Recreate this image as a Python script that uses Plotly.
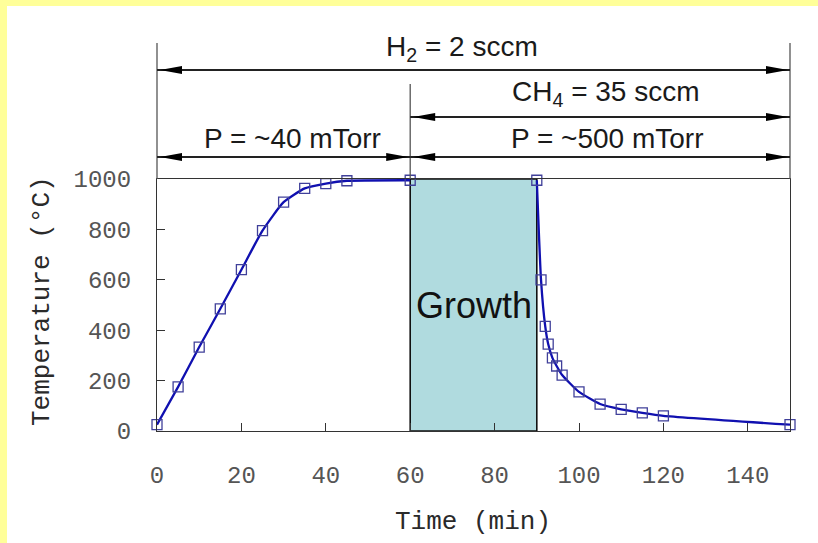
import plotly.graph_objects as go

# ---- data ----
time_heat = [0, 5, 10, 15, 20, 25, 30, 35, 40, 45, 60]
temp_heat = [25, 175, 333, 485, 640, 795, 908, 963, 982, 993, 995]
time_cool = [90, 91, 92, 92.7, 93.7, 94.7, 96, 100, 105, 110, 115, 120, 150]
temp_cool = [995, 600, 415, 345, 290, 258, 222, 155, 107, 86, 72, 60, 25]

growth_start, growth_end = 60, 90
growth_label = "Growth"

x_ticks = [0, 20, 40, 60, 80, 100, 120, 140]
y_ticks = [0, 200, 400, 600, 800, 1000]
x_range = [0, 150]
y_range = [0, 1000]

# process-condition arrows: (start, end, label, label_x)
phase_start, phase_split, phase_end = 0, 60, 150
arrows = [
    (phase_start, phase_end, "H<sub>2</sub> = 2 sccm", 72.2),
    (phase_split, phase_end, "CH<sub>4</sub> = 35 sccm", 106.4),
    (phase_start, phase_split, "P = ~40 mTorr", 32.1),
    (phase_split, phase_end, "P = ~500 mTorr", 106.6),
]

# ---- layout geometry (pixels) ----
W, H = 818, 543
L, R, T, B = 157, 28, 179, 112
PW, PH = W - L - R, H - T - B


def py(p):  # pixel y -> paper y
    return (H - B - p) / PH


def px(p):  # pixel x -> paper x
    return (p - L) / PW


def fx(t):  # data x -> x-domain fraction
    return (t - x_range[0]) / (x_range[1] - x_range[0])


fig = go.Figure()

line_style = dict(color="#1010b0", width=2.3, shape="spline", smoothing=0.5)
marker_style = dict(symbol="square-open", size=10, color="#40409a", line=dict(width=1.3))

fig.add_trace(go.Scatter(x=time_heat, y=temp_heat, mode="lines+markers",
                         line=line_style, marker=marker_style, cliponaxis=False,
                         showlegend=False))
fig.add_trace(go.Scatter(x=time_cool, y=temp_cool, mode="lines+markers",
                         line=line_style, marker=marker_style, cliponaxis=False,
                         showlegend=False))

shapes = []
# yellow frame strips
shapes.append(dict(type="rect", xref="paper", yref="paper",
                   x0=px(0), x1=px(7), y0=py(H), y1=py(0),
                   fillcolor="#ffff99", line=dict(width=0), layer="below"))
shapes.append(dict(type="rect", xref="paper", yref="paper",
                   x0=px(0), x1=px(W), y0=py(6), y1=py(0),
                   fillcolor="#ffff99", line=dict(width=0), layer="below"))

# growth box
shapes.append(dict(type="rect", xref="x", yref="y",
                   x0=growth_start, x1=growth_end, y0=y_range[0], y1=y_range[1],
                   fillcolor="#b0dbdf", line=dict(color="#111111", width=1.6),
                   layer="below"))

# vertical guide lines above plot
vcol = "#555555"
for t, top in [(phase_start, py(43)), (phase_end, py(43)), (phase_split, py(84))]:
    shapes.append(dict(type="line", xref="x domain", yref="y domain",
                       x0=fx(t), x1=fx(t), y0=1, y1=top,
                       line=dict(color=vcol, width=1.3)))

arrow_y = [py(70), py(117), py(157), py(157)]
label_y = [py(48), py(93), py(139), py(139)]
acol = "#222222"
for (t0, t1, lab, lx), ay, ly in zip(arrows, arrow_y, label_y):
    shapes.append(dict(type="line", xref="x domain", yref="y domain",
                       x0=fx(t0), x1=fx(t1), y0=ay, y1=ay,
                       line=dict(color=acol, width=2)))
    shapes.append(dict(type="path", xref="x domain", yref="y domain",
                       xsizemode="pixel", ysizemode="pixel",
                       xanchor=fx(t0), yanchor=ay,
                       path="M3,0 L25,4 L25,-4 Z",
                       fillcolor="#000000", line=dict(width=0)))
    shapes.append(dict(type="path", xref="x domain", yref="y domain",
                       xsizemode="pixel", ysizemode="pixel",
                       xanchor=fx(t1), yanchor=ay,
                       path="M-2,0 L-24,4 L-24,-4 Z",
                       fillcolor="#000000", line=dict(width=0)))

annotations = []
for (t0, t1, lab, lx), ly in zip(arrows, label_y):
    annotations.append(dict(x=lx, y=ly, xref="x", yref="paper", text=lab,
                            showarrow=False, xanchor="center", yanchor="middle",
                            font=dict(family="Liberation Sans, Arial", size=28,
                                      color="#1a1a1a")))

annotations.append(dict(x=(growth_start + growth_end) / 2, y=500, xref="x", yref="y",
                        text=growth_label, showarrow=False,
                        xanchor="center", yanchor="middle",
                        font=dict(family="Liberation Sans, Arial", size=36,
                                  color="#111111")))

mono = "Liberation Mono, Courier New, monospace"
annotations.append(dict(x=px(473), y=py(522), xref="paper", yref="paper",
                        xanchor="center", yanchor="middle",
                        text="Time (min)", showarrow=False,
                        font=dict(family=mono, size=26, color="#2a2a2a")))
annotations.append(dict(x=px(42), y=py(301), xref="paper", yref="paper",
                        xanchor="center", yanchor="middle",
                        text="Temperature (°C)", showarrow=False, textangle=-90,
                        font=dict(family=mono, size=26, color="#2a2a2a")))

axis_common = dict(showline=True, linecolor="#333333", linewidth=1.2, mirror=True,
                   ticks="inside", ticklen=8, tickcolor="#333333", tickwidth=1.2,
                   showgrid=False, zeroline=False,
                   tickfont=dict(family=mono, size=24, color="#555555"))

fig.update_layout(
    width=W, height=H, autosize=False,
    margin=dict(l=L, r=R, t=T, b=B, pad=0),
    paper_bgcolor="white", plot_bgcolor="white",
    xaxis=dict(range=x_range, tickvals=x_ticks, ticklabelstandoff=22, **axis_common),
    yaxis=dict(range=y_range, tickvals=y_ticks, ticklabelstandoff=20, **axis_common),
    shapes=shapes, annotations=annotations, showlegend=False,
)

fig.write_html("out.html", config={"displayModeBar": False},
               post_script="document.body.style.margin='0';document.body.style.overflow='hidden';")
